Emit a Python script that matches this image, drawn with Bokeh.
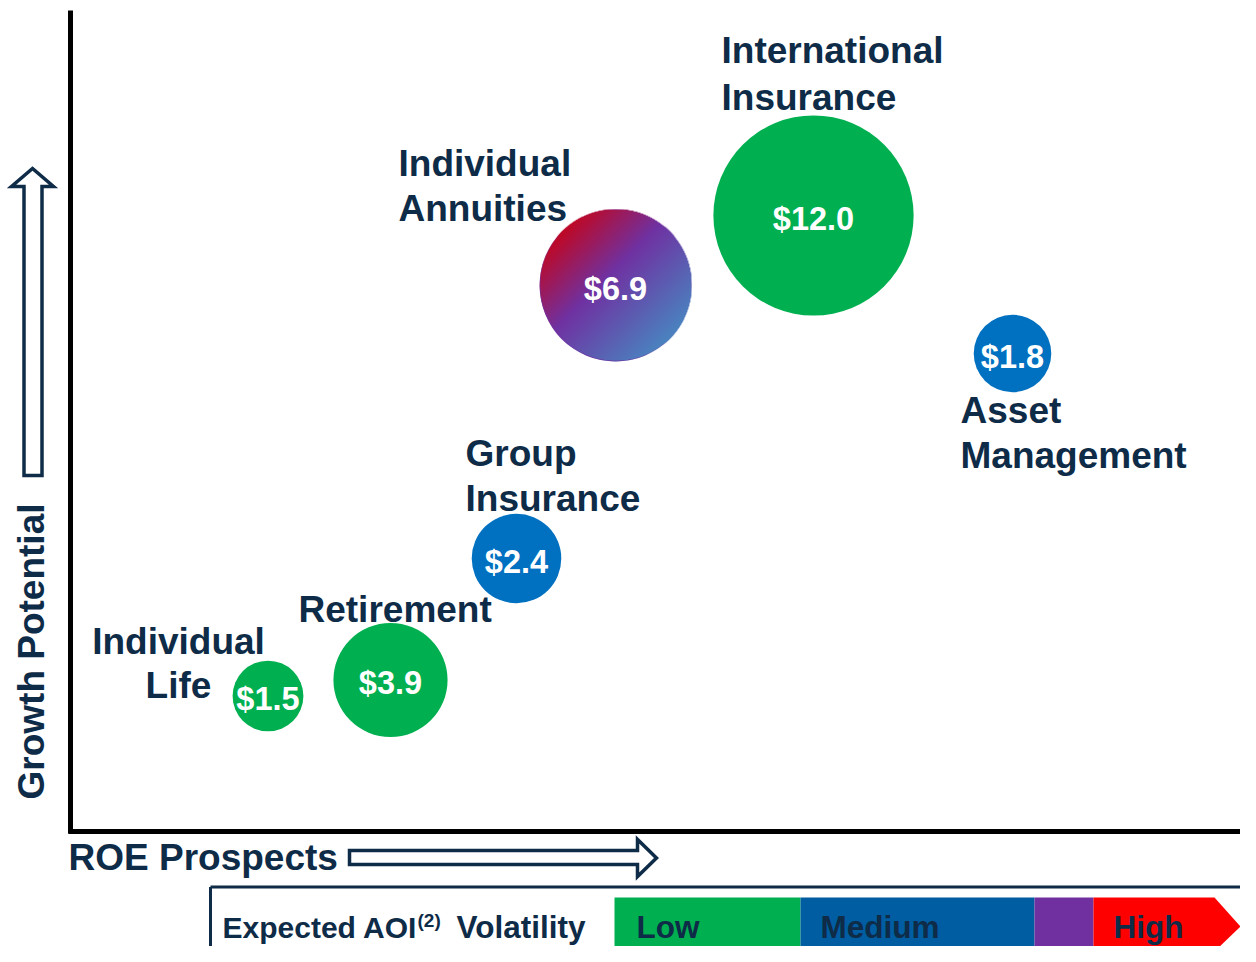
import numpy as np
from bokeh.plotting import figure
from bokeh.models import Range1d, ColumnDataSource
from bokeh.core.properties import value
from bokeh.embed import file_html
from bokeh.resources import INLINE

# ---------------- data ----------------
segments = ["Individual Life", "Retirement", "Group Insurance",
            "Individual Annuities", "International Insurance", "Asset Management"]
aoi = [1.5, 3.9, 2.4, 6.9, 12.0, 1.8]                 # bubble size ($)
roe_prospects = [197.5, 320, 446, 545, 743, 942]      # x position (axis units)
growth_potential = [134.5, 150.5, 272, 545, 615, 477] # y position (axis units)
volatility = ["Low", "Low", "Medium", "Medium-High", "Low", "Medium"]
value_labels = ["$1.5", "$3.9", "$2.4", "$6.9", "$12.0", "$1.8"]
legend_levels = ["Low", "Medium", "", "High"]

# ---------------- style ----------------
NAVY = "#0E2B47"
FONT = value("Liberation Sans")
vol_colors = {"Low": "#00B050", "Medium": "#0070C0", "Medium-High": "#7030A0"}
legend_colors = ["#00B050", "#005DA2", "#7030A0", "#FF0000"]

# convert layout positions (screen pixels) to axis units
def X(px):
    return px - 70

def Y(py):
    return 830 - py

W, H = 1240, 946
p = figure(width=W, height=H, x_range=Range1d(X(0), X(W)), y_range=Range1d(Y(H), Y(0)),
           output_backend="svg", toolbar_location=None, min_border=0,
           x_axis_type=None, y_axis_type=None)
p.grid.visible = False
p.outline_line_color = None
p.background_fill_color = "white"
p.border_fill_color = "white"

# ---------------- bubbles ----------------
radius = [28.9 * np.sqrt(v) for v in aoi]
src = ColumnDataSource(dict(x=roe_prospects, y=growth_potential, r=radius,
                            c=[vol_colors[v] for v in volatility],
                            lab=value_labels,
                            ty=[g - 3 for g in growth_potential]))
p.circle(x="x", y="y", radius="r", fill_color="c", line_color=None, source=src)

# gradient overlay for the medium-high bubble
N = 300
u = np.linspace(-1, 1, N)
U, V = np.meshgrid(u, u)
t = np.clip((U - V) / (2 * np.sqrt(2)) + 0.5, 0, 1)
stops = [0.0, 0.42, 1.0]
R = np.interp(t, stops, [192, 112, 74])
G = np.interp(t, stops, [8, 50, 132])
B = np.interp(t, stops, [36, 162, 192])
d = np.sqrt(U ** 2 + V ** 2)
A = np.clip((1 - d) * N / 2 + 0.5, 0, 1) * 255
img = np.empty((N, N), dtype=np.uint32)
view = img.view(dtype=np.uint8).reshape((N, N, 4))
view[..., 0] = R.astype(np.uint8)
view[..., 1] = G.astype(np.uint8)
view[..., 2] = B.astype(np.uint8)
view[..., 3] = A.astype(np.uint8)
for i, v in enumerate(volatility):
    if v == "Medium-High":
        cx, cy, r = roe_prospects[i], growth_potential[i], radius[i]
        p.image_rgba(image=[img], x=cx - r, y=cy - r, dw=2 * r, dh=2 * r)

p.text(x="x", y="ty", text="lab", source=src, text_color="white", text_font=FONT,
       text_font_style="bold", text_font_size="32.5px", text_align="center",
       text_baseline="alphabetic")

# ---------------- segment labels ----------------
label_lines = [
    ("Individual", 178, 640.5, "center"), ("Life", 178, 685, "center"),
    ("Retirement", 298, 609, "left"),
    ("Group", 465, 453, "left"), ("Insurance", 465, 498, "left"),
    ("Individual", 398, 163, "left"), ("Annuities", 398, 207.5, "left"),
    ("International", 721, 50, "left"), ("Insurance", 721, 96.5, "left"),
    ("Asset", 960, 410, "left"), ("Management", 960, 455, "left"),
]
for txt, lx, ly, al in label_lines:
    p.text(x=[X(lx)], y=[Y(ly)], text=[txt], text_color=NAVY, text_font=FONT,
           text_font_style="bold", text_font_size="37px", text_align=al,
           text_baseline="alphabetic")

# ---------------- axes ----------------
p.line(x=[X(70), X(70)], y=[Y(10), Y(833)], line_color="black", line_width=5)
p.line(x=[X(68), X(W + 5)], y=[Y(831), Y(831)], line_color="black", line_width=5)

# axis arrows
up_x = [23.5, 41.5, 41.5, 53, 32, 11, 23.5]
up_y = [475, 475, 186, 186, 168, 186, 186]
p.patch(x=[X(v) for v in up_x], y=[Y(v) for v in up_y], fill_color="white",
        line_color=NAVY, line_width=3.5, line_join="miter")
rt_x = [349, 637, 637, 656, 637, 637, 349]
rt_y = [850, 850, 839, 857.5, 876, 864, 864]
p.patch(x=[X(v) for v in rt_x], y=[Y(v) for v in rt_y], fill_color="white",
        line_color=NAVY, line_width=3.5, line_join="miter")

p.text(x=[X(31)], y=[Y(651)], text=["Growth Potential"], angle=np.pi / 2,
       text_color=NAVY, text_font=FONT, text_font_style="bold", text_font_size="37px",
       text_align="center", text_baseline="alphabetic")
p.text(x=[X(68)], y=[Y(857)], text=["ROE Prospects"], text_color=NAVY, text_font=FONT,
       text_font_style="bold", text_font_size="37px", text_align="left",
       text_baseline="alphabetic")

# ---------------- volatility legend ----------------
p.line(x=[X(210), X(W + 5)], y=[Y(886.5), Y(886.5)], line_color=NAVY, line_width=3)
p.line(x=[X(210), X(210)], y=[Y(886.5), Y(H + 5)], line_color=NAVY, line_width=3)

edges = [614, 800, 1034, 1093]
top, bot = 897, H + 5
p.quad(left=[X(e) for e in edges[:3]], right=[X(e) for e in edges[1:4]],
       top=Y(top), bottom=Y(bot), fill_color=legend_colors[:3], line_color=None)
p.patch(x=[X(v) for v in [1093, 1214, W, 1214, 1093]],
        y=[Y(v) for v in [top, top, 926, bot, bot]],
        fill_color=legend_colors[3], line_color=None)

p.text(x=[X(222)], y=[Y(926.5)], text=["Expected AOI"], text_color=NAVY, text_font=FONT,
       text_font_style="bold", text_font_size="30px", text_baseline="alphabetic")
p.text(x=[X(417)], y=[Y(920)], text=["(2)"], text_color=NAVY, text_font=FONT,
       text_font_style="bold", text_font_size="19px", text_baseline="alphabetic")
p.text(x=[X(456)], y=[Y(926.5)], text=["Volatility"], text_color=NAVY, text_font=FONT,
       text_font_style="bold", text_font_size="31.5px", text_baseline="alphabetic")
leg_x = [636, 820, 1040, 1113]
for lvl, lx in zip(legend_levels, leg_x):
    if lvl:
        p.text(x=[X(lx)], y=[Y(926)], text=[lvl], text_color=NAVY, text_font=FONT,
               text_font_style="bold", text_font_size="31.5px", text_baseline="alphabetic")

open("out.html", "w").write(file_html(p, INLINE))
